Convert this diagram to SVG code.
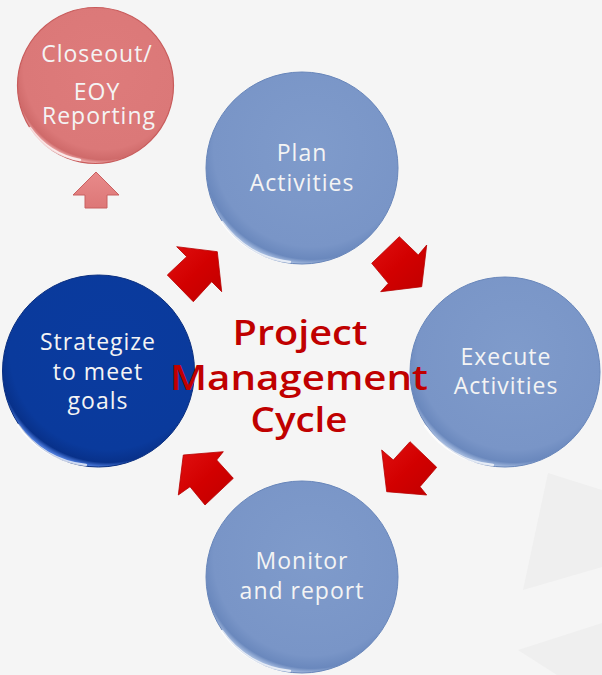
<svg xmlns="http://www.w3.org/2000/svg" width="602" height="675" viewBox="0 0 602 675">
<defs>
<radialGradient id="gBlue" cx="0.55" cy="0.4" r="0.6">
<stop offset="0" stop-color="#7f9bcb"/>
<stop offset="0.85" stop-color="#7995c7"/>
<stop offset="0.96" stop-color="#6a88bd"/>
<stop offset="1" stop-color="#9fb6dc"/>
</radialGradient>
<radialGradient id="gDark" cx="0.55" cy="0.4" r="0.6">
<stop offset="0" stop-color="#0a3b9f"/>
<stop offset="0.85" stop-color="#0a3a9c"/>
<stop offset="0.96" stop-color="#08318a"/>
<stop offset="1" stop-color="#4a78d8"/>
</radialGradient>
<radialGradient id="gPink" cx="0.55" cy="0.4" r="0.6">
<stop offset="0" stop-color="#de7b7b"/>
<stop offset="0.85" stop-color="#db7878"/>
<stop offset="0.96" stop-color="#cf6a6a"/>
<stop offset="1" stop-color="#eeaaaa"/>
</radialGradient>
<linearGradient id="gRed" x1="0" y1="0" x2="1" y2="1">
<stop offset="0" stop-color="#e01010"/>
<stop offset="0.5" stop-color="#d20000"/>
<stop offset="1" stop-color="#c00000"/>
</linearGradient>
<linearGradient id="gUp" x1="0" y1="0" x2="0" y2="1">
<stop offset="0" stop-color="#e88a8a"/>
<stop offset="1" stop-color="#dd7777"/>
</linearGradient>
</defs>
<style>
.node text{font-family:"Open Sans","Liberation Sans",sans-serif;font-size:23px;letter-spacing:1px;fill:#f4f4f4;text-anchor:middle}
.rim{fill:none;stroke:#ffffff;stroke-opacity:0.75;stroke-width:2.5;stroke-linecap:round}
.arrow{fill:url(#gRed);stroke:#b80000;stroke-width:0.8}
.title{font-family:"Open Sans","Liberation Sans",sans-serif;font-weight:600;font-size:34px;fill:#c00000;text-anchor:middle}
</style>
<rect width="602" height="675" fill="#f5f5f5"/>
<polygon points="548,473 602,490 602,567 523,590" fill="#efefef"/>
<polygon points="518,650 602,623 602,675 557,675" fill="#efefef"/>

<g id="node-closeout" class="node">
<circle cx="95.5" cy="85.5" r="78" fill="url(#gPink)" stroke="#c85c5c" stroke-width="1.2"/>
<path class="rim" d="M 30 128 A 76 76 0 0 0 80 160" stroke-opacity="0.5"/>
<text x="97" y="62">Closeout/</text>
<text x="97" y="100">EOY</text>
<text x="99" y="124">Reporting</text>
</g>

<g id="node-plan" class="node">
<circle cx="302" cy="168" r="96" fill="url(#gBlue)" stroke="#6886ba" stroke-width="1"/>
<path class="rim" d="M 222 222 A 94 94 0 0 0 290 262"/>
<text x="302" y="161">Plan</text>
<text x="302" y="191">Activities</text>
</g>

<g id="node-execute" class="node">
<circle cx="505" cy="372" r="95" fill="url(#gBlue)" stroke="#6886ba" stroke-width="1"/>
<path class="rim" d="M 425 426 A 93 93 0 0 0 493 465"/>
<text x="506" y="365">Execute</text>
<text x="506" y="394">Activities</text>
</g>

<g id="node-monitor" class="node">
<circle cx="302" cy="577" r="96" fill="url(#gBlue)" stroke="#6886ba" stroke-width="1"/>
<path class="rim" d="M 222 631 A 94 94 0 0 0 290 671"/>
<text x="302" y="569">Monitor</text>
<text x="302" y="599">and report</text>
</g>

<g id="node-strategize" class="node">
<circle cx="98.5" cy="371" r="96" fill="url(#gDark)" stroke="#0a2f80" stroke-width="1"/>
<path class="rim" d="M 18 425 A 94 94 0 0 0 86 465"/>
<text x="98" y="350">Strategize</text>
<text x="98" y="380">to meet</text>
<text x="98" y="409">goals</text>
</g>

<g id="title">
<text class="title" x="300" y="345" textLength="135" lengthAdjust="spacingAndGlyphs">Project</text>
<text class="title" x="299" y="390" textLength="258" lengthAdjust="spacingAndGlyphs">Management</text>
<text class="title" x="299" y="432" textLength="97" lengthAdjust="spacingAndGlyphs">Cycle</text>
</g>

<g id="connectors">
<polygon class="arrow" points="176.7,246.7 217.3,251.7 221.7,291.7 211.7,281.7 193.3,301.7 167.3,275 186.7,256.7"/>
<polygon class="arrow" points="421.7,286.7 380.7,291.7 388.3,283.3 371.7,263.3 399.3,236.7 418.3,255 426.7,245"/>
<polygon class="arrow" points="386.7,491.7 381.7,450 393.3,460 410,441.7 436.7,467.3 420,486.7 426.7,495"/>
<polygon class="arrow" points="183.3,455 223.3,451.7 216.7,460 233.3,478.3 205,505 190,486.7 178.3,495"/>
<polygon points="96,172 119,195 107,195 107,208 85,208 85,195 73,195" fill="url(#gUp)" stroke="#c96060" stroke-width="1"/>
</g>
</svg>
